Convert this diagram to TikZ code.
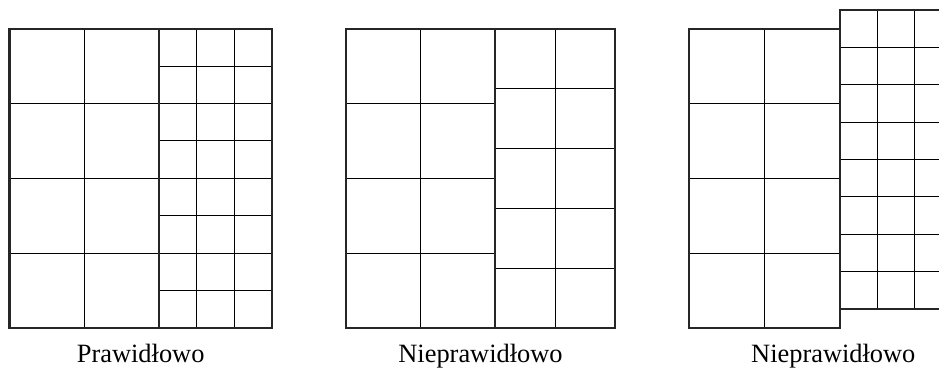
\documentclass[tikz,border=0pt]{standalone}
\usepackage{fontspec}
\setmainfont{Liberation Serif}
\tikzset{
  siatka/.style={line width=0.8pt, draw=black},
  ramka/.style={line width=1.6pt, draw=black!85},
  podpis/.style={anchor=base, font=\fontsize{19.8}{24}\selectfont}
}

\begin{document}
\begin{tikzpicture}[x=0.75pt, y=-0.75pt]
\useasboundingbox (0,0) rectangle (939,369);
\clip (0,0) rectangle (939,369);

% Prawidlowo: duze pola 2x4, male pola 3x8
\draw[siatka] (84.5,28.7) -- (84.5,328);
\foreach \i in {1,2,3}
  \draw[siatka] (9.5,{28.7+74.8*\i}) -- (159,{28.7+74.8*\i});
\foreach \i in {1,2}
  \draw[siatka] ({159+37.7*\i},28.7) -- ({159+37.7*\i},328);
\foreach \i in {1,...,7}
  \draw[siatka] (159,{28.7+37.4*\i}) -- (272,{28.7+37.4*\i});
\draw[ramka] (9.5,28.7) rectangle (159,328);
\draw[ramka] (159,28.7) rectangle (272,328);

% Nieprawidlowo: male pola 2x5
\draw[siatka] (420.5,28.7) -- (420.5,328);
\foreach \i in {1,2,3}
  \draw[siatka] (345.7,{28.7+74.8*\i}) -- (495.3,{28.7+74.8*\i});
\draw[siatka] (555.3,28.7) -- (555.3,328);
\foreach \i in {1,...,4}
  \draw[siatka] (495.3,{28.7+59.86*\i}) -- (615.3,{28.7+59.86*\i});
\draw[ramka] (345.7,28.7) rectangle (495.3,328);
\draw[ramka] (495.3,28.7) rectangle (615.3,328);

% Nieprawidlowo: male pola przesuniete w gore
\draw[siatka] (764.5,28.7) -- (764.5,328);
\foreach \i in {1,2,3}
  \draw[siatka] (689.3,{28.7+74.8*\i}) -- (839.7,{28.7+74.8*\i});
\foreach \i in {1,2}
  \draw[siatka] ({839.7+37.4*\i},10) -- ({839.7+37.4*\i},309);
\foreach \i in {1,...,7}
  \draw[siatka] (839.7,{10+37.375*\i}) -- (952,{10+37.375*\i});
\draw[ramka] (689.3,28.7) rectangle (839.7,328);
\draw[ramka] (839.7,10) rectangle (952,309);

% Podpisy
\node[podpis] (lewy) at (140.7,362.5) {Prawidłowo};
\node[podpis] (srodkowy) at (480.5,362.5) {Nieprawidłowo};
\node[podpis] (prawy) at (833.3,362.5) {Nieprawidłowo};
\end{tikzpicture}
\end{document}
